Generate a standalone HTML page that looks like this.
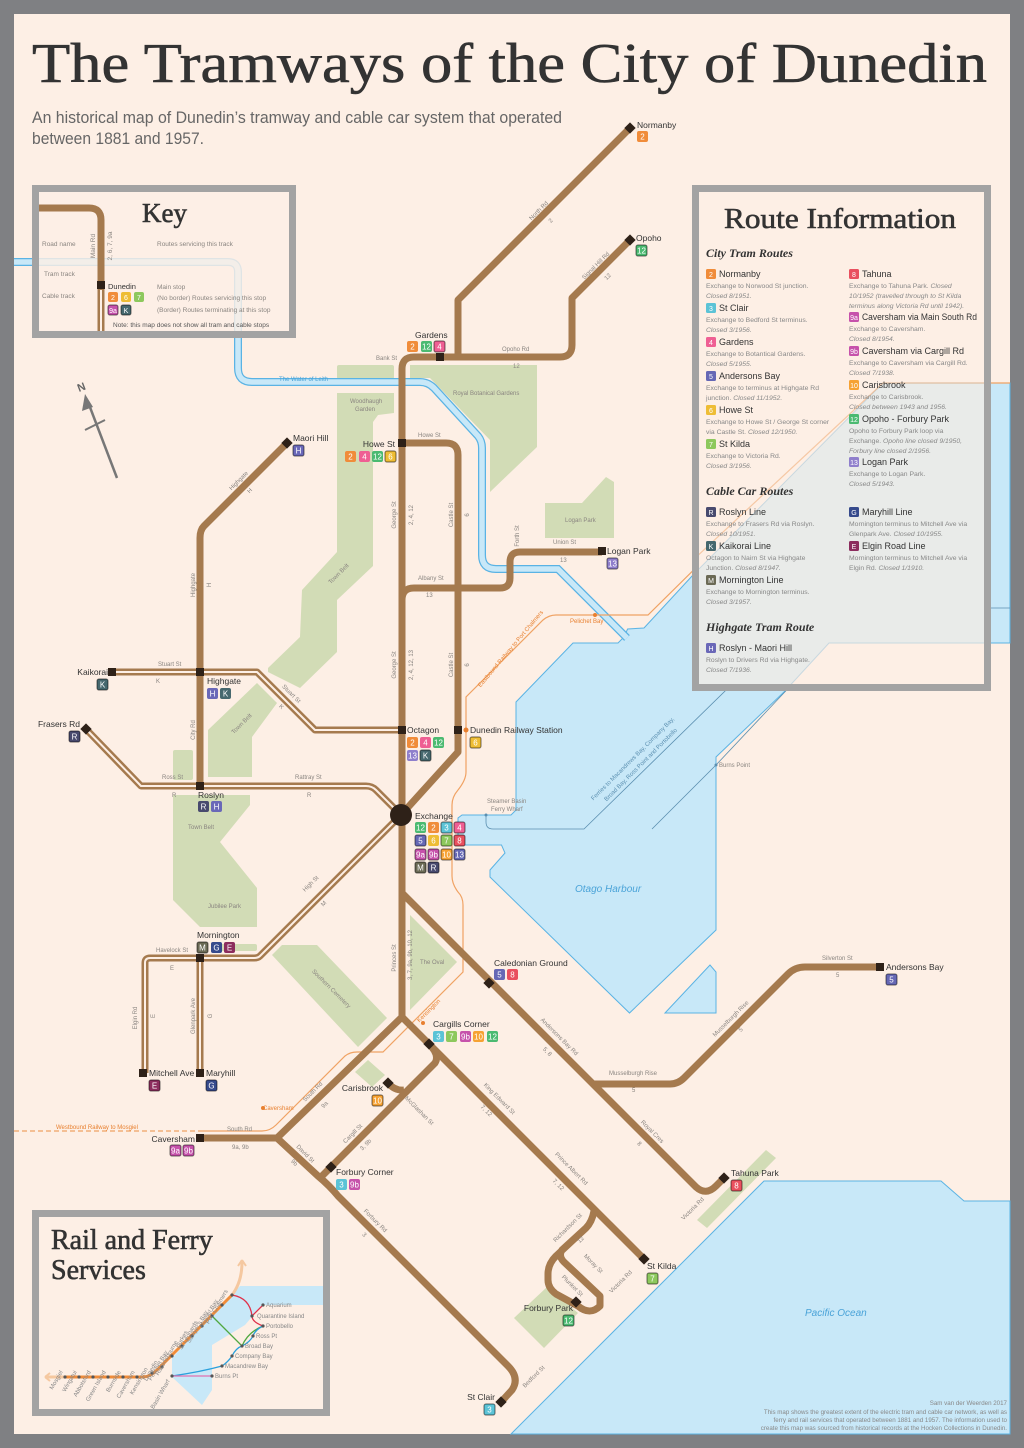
<!DOCTYPE html>
<html><head><meta charset="utf-8">
<style>
html,body{margin:0;padding:0;background:#7f8083;}
svg{display:block;}
text{font-family:"Liberation Sans Narrow","Liberation Sans",sans-serif;}
.rd{font-size:6px;fill:#8a8580;}
.lb{font-size:8.5px;fill:#333;}
.bt{font-size:8px;fill:#fff;text-anchor:middle;}
.sf{font-family:"Liberation Serif",serif;fill:#333;stroke:#333;stroke-width:0.6;}
.tr{fill:none;stroke:#a57a4e;stroke-width:7;stroke-linejoin:round;stroke-linecap:butt;}
.cb{fill:none;stroke:#fdefe5;stroke-width:2;stroke-linejoin:round;}
.st{fill:#2e2118;}
.pk{fill:#d2dcb6;}
.wt{fill:#c8e8f8;stroke:#5ab3e4;stroke-width:1;}
.c2{fill:#f08c3a}.c3{fill:#5cc3d6}.c4{fill:#ef5f93}.c5{fill:#6668b5}.c6{fill:#eebd35}.c7{fill:#8dc85d}.c8{fill:#e9505f}.c9{fill:#c652ab}.c10{fill:#f6a233}.c12{fill:#4bba71}.c13{fill:#8f7fcc}.cM{fill:#6b6a55}.cR{fill:#484a6e}.cK{fill:#46686e}.cH{fill:#6a68b8}.cG{fill:#364a8c}.cE{fill:#8c2d5e}
.bo{stroke:rgba(0,0,0,.45);stroke-width:1.2}
.rn{font-size:9px;fill:#333;}
.rdsc{font-size:6.8px;fill:#888;}
.it{font-style:italic;}
.hd{font-family:"Liberation Serif",serif;font-style:italic;font-weight:bold;font-size:12px;fill:#333;}
.or{fill:none;stroke:#f0a263;stroke-width:1.2;}
.fl{font-size:6px;fill:#888;}
</style></head>
<body>
<svg width="1024" height="1448" viewBox="0 0 1024 1448" xmlns="http://www.w3.org/2000/svg">
<defs>
<clipPath id="rbox"><rect x="699" y="192" width="285" height="492"/></clipPath>
<polygon id="harb" points="644,628 693,575 883,383 1010,383 1010,643 829,643 784,692 716,757 716,930 629.5,1013 490,877 490,870 505,853 501.5,845 458,845 458,818 462,815 511,815 516,810 516,702 573,643 618,643 624,637 627.6,629"/>
</defs>
<rect x="0" y="0" width="1024" height="1448" fill="#7f8083"/>
<rect x="14" y="14" width="996" height="1420" fill="#fdefe5"/>

<!-- parks -->
<rect class="pk" x="337" y="365" width="57" height="14" rx="2"/>
<polygon class="pk" points="337,393 394,393 394,413 378,415 373,422 373,566 337,600 337,652 300,688 268,672 268,668 300,637 302,590 337,552"/>
<polygon class="pk" points="257,683 277,703 252,737 252,777 208,777 208,730"/>
<rect class="pk" x="173" y="750" width="20" height="30" rx="2"/>
<polygon class="pk" points="410,365 537,365 537,447 490,492 490,440 430,378 410,378"/>
<polygon class="pk" points="545,503 582,503 606,477 614,482 614,538 545,538"/>
<polygon class="pk" points="173,795 250,795 250,805 220,842 257,888 257,927 200,927 173,900"/>
<rect class="pk" x="220" y="944" width="37" height="7" rx="2"/>
<polygon class="pk" points="272,955 282,945 317,945 387,1018 358,1047"/>
<polygon class="pk" points="410,915 457,962 410,1010"/>
<polygon class="pk" points="355,1072 368,1060 385,1075 372,1087"/>
<polygon class="pk" points="766,1150 776,1158 707,1228 697,1220"/>
<polygon class="pk" points="547,1287 578,1313 544,1348 514,1318"/>

<!-- water -->
<use href="#harb" class="wt"/>
<polygon class="wt" points="665,1013 710,965 716,972 716,1013"/>
<polygon class="wt" points="511,1434 764,1181 941,1181 964,1201 1010,1201 1010,1434"/>
<path d="M14,262 H228 Q238,262 238,272 V368 Q238,382 252,382 H420 Q428,382 434,388 L478,436 Q482,441 482,448 V555 Q482,569 496,569 H558 L627,638" fill="none" stroke="#5ab3e4" stroke-width="8"/>
<path d="M14,262 H228 Q238,262 238,272 V368 Q238,382 252,382 H420 Q428,382 434,388 L478,436 Q482,441 482,448 V555 Q482,569 496,569 H558 L627,638" fill="none" stroke="#c8e8f8" stroke-width="5.5"/>
<path d="M486,815 V822 Q486,829 493,829 H584 L810,608 H1010 M652,829 L716,765 L831,643" fill="none" stroke="#5b8fb0" stroke-width="0.8"/>
<circle cx="486" cy="815" r="1.5" fill="#5b8fb0"/><circle cx="716" cy="765" r="1.5" fill="#5b8fb0"/>

<!-- railway -->
<path d="M14,1131 H198" class="or" stroke-dasharray="5,3"/>
<path d="M198,1131 H262 Q270,1131 276,1125 L345,1056 Q350,1052 357,1052 H383 L463,972 V905 Q463,897 458,892 Q452,884 452,876 V805 Q452,797 458,790 Q466,780 466,772 V697 L543,620 Q549,615 556,615 H648 L883,383 H1010" class="or"/>
<circle cx="595" cy="615" r="2" fill="#e88030"/><circle cx="423" cy="1023" r="2" fill="#e88030"/><circle cx="263" cy="1108" r="2" fill="#e88030"/>

<!-- tram tracks -->
<path class="tr" d="M630,128 L458,300 V357"/>
<path class="tr" d="M630,240 L572,298 V345 Q572,357 560,357 H414 Q402,357 402,369 V1017"/>
<path class="tr" d="M402,443 H446 Q458,443 458,455 V752 L401,815"/>
<path class="tr" d="M402,600 Q402,588 414,588 H500 Q510,588 510,578 V562 Q510,552 520,552 H602"/>
<path class="tr" d="M287,443 L204,526 Q200,530 200,538 V786"/>
<path class="tr" d="M402,893 L696,1187 Q706,1196 716,1186 L724,1178"/>
<path class="tr" d="M592,1084 H670 Q678,1084 684,1078 L788,974 Q795,967 805,967 H880"/>
<path class="tr" d="M402,1017 L277,1138 M200,1138 H277 L318,1176 Q330,1186 338,1196 L508,1366 Q520,1378 512,1390 L501,1402"/>
<path class="tr" d="M320,1178 L435,1063 Q440,1055 429,1044 M388,1083 Q395,1091 404,1090"/>
<path class="tr" d="M402,1017 L644,1259"/>
<path class="tr" d="M594,1211 Q592,1222 586,1228 L556,1256 Q548,1264 548,1274 V1280 Q548,1288 556,1294 L578,1306 Q590,1316 600,1306 V1296 L564,1262 Q558,1256 562,1250 L586,1228"/>
<!-- cable tracks -->
<path class="tr" d="M112,672 H257 L315,730 H402"/><path class="cb" d="M112,672 H257 L315,730 H402"/>
<path class="tr" d="M86,729 L141,786 H366 Q372,786 376,790 L401,815"/><path class="cb" d="M86,729 L141,786 H366 Q372,786 376,790 L401,815"/>
<path class="tr" d="M401,815 L260,956 Q258,958 254,958 H150 Q145,958 145,963 V1073"/><path class="cb" d="M401,815 L260,956 Q258,958 254,958 H150 Q145,958 145,963 V1073"/>
<path class="tr" d="M200,958 V1073"/><path class="cb" d="M200,958 V1073"/>

<!-- stops -->
<g class="st">
<rect x="626" y="124" width="8" height="8" transform="rotate(45 630 128)"/>
<rect x="626" y="236" width="8" height="8" transform="rotate(45 630 240)"/>
<rect x="436" y="353" width="8" height="8"/>
<rect x="398" y="439" width="8" height="8"/>
<rect x="283" y="439" width="8" height="8" transform="rotate(45 287 443)"/>
<rect x="196" y="668" width="8" height="8"/>
<rect x="108" y="668" width="8" height="8"/>
<rect x="82" y="725" width="8" height="8" transform="rotate(45 86 729)"/>
<rect x="398" y="726" width="8" height="8"/>
<rect x="454" y="726" width="8" height="8"/>
<rect x="196" y="782" width="8" height="8"/>
<rect x="598" y="547" width="8" height="8"/>
<rect x="196" y="954" width="8" height="8"/>
<rect x="139" y="1069" width="8" height="8"/>
<rect x="196" y="1069" width="8" height="8"/>
<rect x="485" y="979" width="8" height="8" transform="rotate(45 489 983)"/>
<rect x="425" y="1040" width="8" height="8" transform="rotate(45 429 1044)"/>
<rect x="384" y="1079" width="8" height="8" transform="rotate(45 388 1083)"/>
<rect x="196" y="1134" width="8" height="8"/>
<rect x="327" y="1163" width="8" height="8" transform="rotate(45 331 1167)"/>
<rect x="720" y="1174" width="8" height="8" transform="rotate(45 724 1178)"/>
<rect x="640" y="1255" width="8" height="8" transform="rotate(45 644 1259)"/>
<rect x="572" y="1298" width="8" height="8" transform="rotate(45 576 1302)"/>
<rect x="497" y="1398" width="8" height="8" transform="rotate(45 501 1402)"/>
<rect x="876" y="963" width="8" height="8"/>
<circle cx="401" cy="815" r="11"/>
</g>
<circle cx="466" cy="730" r="2.5" fill="#e88030"/>

<!-- stop labels and badges -->
<text class="lb" x="637" y="128">Normanby</text>
<rect class="c2" x="637" y="131" width="11" height="11" rx="2"/><text class="bt" x="642.5" y="139.5">2</text>
<text class="lb" x="636" y="241">Opoho</text>
<rect class="c12 bo" x="636" y="245" width="11" height="11" rx="2"/><text class="bt" x="641.5" y="253.5">12</text>
<text class="lb" x="415" y="338">Gardens</text>
<rect class="c2" x="407" y="341" width="11" height="11" rx="2"/><text class="bt" x="412.5" y="349.5">2</text>
<rect class="c12" x="421" y="341" width="11" height="11" rx="2"/><text class="bt" x="426.5" y="349.5">12</text>
<rect class="c4 bo" x="434" y="341" width="11" height="11" rx="2"/><text class="bt" x="439.5" y="349.5">4</text>
<text class="lb" x="395" y="447" text-anchor="end">Howe St</text>
<rect class="c2" x="345" y="451" width="11" height="11" rx="2"/><text class="bt" x="350.5" y="459.5">2</text>
<rect class="c4" x="359" y="451" width="11" height="11" rx="2"/><text class="bt" x="364.5" y="459.5">4</text>
<rect class="c12" x="372" y="451" width="11" height="11" rx="2"/><text class="bt" x="377.5" y="459.5">12</text>
<rect class="c6 bo" x="385" y="451" width="11" height="11" rx="2"/><text class="bt" x="390.5" y="459.5">6</text>
<text class="lb" x="293" y="441">Maori Hill</text>
<rect class="cH bo" x="293" y="445" width="11" height="11" rx="2"/><text class="bt" x="298.5" y="453.5">H</text>
<text class="lb" x="207" y="684">Highgate</text>
<rect class="cH" x="207" y="688" width="11" height="11" rx="2"/><text class="bt" x="212.5" y="696.5">H</text>
<rect class="cK" x="220" y="688" width="11" height="11" rx="2"/><text class="bt" x="225.5" y="696.5">K</text>
<text class="lb" x="108" y="675" text-anchor="end">Kaikorai</text>
<rect class="cK bo" x="97" y="679" width="11" height="11" rx="2"/><text class="bt" x="102.5" y="687.5">K</text>
<text class="lb" x="80" y="727" text-anchor="end">Frasers Rd</text>
<rect class="cR bo" x="69" y="731" width="11" height="11" rx="2"/><text class="bt" x="74.5" y="739.5">R</text>
<text class="lb" x="407" y="733">Octagon</text>
<rect class="c2" x="407" y="737" width="11" height="11" rx="2"/><text class="bt" x="412.5" y="745.5">2</text>
<rect class="c4" x="420" y="737" width="11" height="11" rx="2"/><text class="bt" x="425.5" y="745.5">4</text>
<rect class="c12" x="433" y="737" width="11" height="11" rx="2"/><text class="bt" x="438.5" y="745.5">12</text>
<rect class="c13" x="407" y="750" width="11" height="11" rx="2"/><text class="bt" x="412.5" y="758.5">13</text>
<rect class="cK bo" x="420" y="750" width="11" height="11" rx="2"/><text class="bt" x="425.5" y="758.5">K</text>
<text class="lb" x="470" y="733">Dunedin Railway Station</text>
<rect class="c6 bo" x="470" y="737" width="11" height="11" rx="2"/><text class="bt" x="475.5" y="745.5">6</text>
<text class="lb" x="198" y="798">Roslyn</text>
<rect class="cR" x="198" y="801" width="11" height="11" rx="2"/><text class="bt" x="203.5" y="809.5">R</text>
<rect class="cH" x="211" y="801" width="11" height="11" rx="2"/><text class="bt" x="216.5" y="809.5">H</text>
<text class="lb" x="415" y="819">Exchange</text>
<rect class="c12" x="415" y="822" width="11" height="11" rx="2"/><text class="bt" x="420.5" y="830.5">12</text>
<rect class="c2" x="428" y="822" width="11" height="11" rx="2"/><text class="bt" x="433.5" y="830.5">2</text>
<rect class="c3 bo" x="441" y="822" width="11" height="11" rx="2"/><text class="bt" x="446.5" y="830.5">3</text>
<rect class="c4 bo" x="454" y="822" width="11" height="11" rx="2"/><text class="bt" x="459.5" y="830.5">4</text>
<rect class="c5 bo" x="415" y="835" width="11" height="11" rx="2"/><text class="bt" x="420.5" y="843.5">5</text>
<rect class="c6" x="428" y="835" width="11" height="11" rx="2"/><text class="bt" x="433.5" y="843.5">6</text>
<rect class="c7 bo" x="441" y="835" width="11" height="11" rx="2"/><text class="bt" x="446.5" y="843.5">7</text>
<rect class="c8 bo" x="454" y="835" width="11" height="11" rx="2"/><text class="bt" x="459.5" y="843.5">8</text>
<rect class="c9 bo" x="415" y="849" width="11" height="11" rx="2"/><text class="bt" x="420.5" y="857.5">9a</text>
<rect class="c9 bo" x="428" y="849" width="11" height="11" rx="2"/><text class="bt" x="433.5" y="857.5">9b</text>
<rect class="c10 bo" x="441" y="849" width="11" height="11" rx="2"/><text class="bt" x="446.5" y="857.5">10</text>
<rect class="c5 bo" x="454" y="849" width="11" height="11" rx="2"/><text class="bt" x="459.5" y="857.5">13</text>
<rect class="cM bo" x="415" y="862" width="11" height="11" rx="2"/><text class="bt" x="420.5" y="870.5">M</text>
<rect class="cR bo" x="428" y="862" width="11" height="11" rx="2"/><text class="bt" x="433.5" y="870.5">R</text>
<text class="lb" x="607" y="554">Logan Park</text>
<rect class="c13 bo" x="607" y="558" width="11" height="11" rx="2"/><text class="bt" x="612.5" y="566.5">13</text>
<text class="lb" x="197" y="938">Mornington</text>
<rect class="cM bo" x="197" y="942" width="11" height="11" rx="2"/><text class="bt" x="202.5" y="950.5">M</text>
<rect class="cG" x="211" y="942" width="11" height="11" rx="2"/><text class="bt" x="216.5" y="950.5">G</text>
<rect class="cE" x="224" y="942" width="11" height="11" rx="2"/><text class="bt" x="229.5" y="950.5">E</text>
<text class="lb" x="149" y="1076">Mitchell Ave</text>
<rect class="cE bo" x="149" y="1080" width="11" height="11" rx="2"/><text class="bt" x="154.5" y="1088.5">E</text>
<text class="lb" x="206" y="1076">Maryhill</text>
<rect class="cG bo" x="206" y="1080" width="11" height="11" rx="2"/><text class="bt" x="211.5" y="1088.5">G</text>
<text class="lb" x="494" y="966">Caledonian Ground</text>
<rect class="c5" x="494" y="969" width="11" height="11" rx="2"/><text class="bt" x="499.5" y="977.5">5</text>
<rect class="c8" x="507" y="969" width="11" height="11" rx="2"/><text class="bt" x="512.5" y="977.5">8</text>
<text class="lb" x="433" y="1027">Cargills Corner</text>
<rect class="c3" x="433" y="1031" width="11" height="11" rx="2"/><text class="bt" x="438.5" y="1039.5">3</text>
<rect class="c7" x="446" y="1031" width="11" height="11" rx="2"/><text class="bt" x="451.5" y="1039.5">7</text>
<rect class="c9" x="460" y="1031" width="11" height="11" rx="2"/><text class="bt" x="465.5" y="1039.5">9b</text>
<rect class="c10" x="473" y="1031" width="11" height="11" rx="2"/><text class="bt" x="478.5" y="1039.5">10</text>
<rect class="c12" x="487" y="1031" width="11" height="11" rx="2"/><text class="bt" x="492.5" y="1039.5">12</text>
<text class="lb" x="383" y="1091" text-anchor="end">Carisbrook</text>
<rect class="c10 bo" x="372" y="1095" width="11" height="11" rx="2"/><text class="bt" x="377.5" y="1103.5">10</text>
<text class="lb" x="195" y="1142" text-anchor="end">Caversham</text>
<rect class="c9 bo" x="170" y="1145" width="11" height="11" rx="2"/><text class="bt" x="175.5" y="1153.5">9a</text>
<rect class="c9 bo" x="183" y="1145" width="11" height="11" rx="2"/><text class="bt" x="188.5" y="1153.5">9b</text>
<text class="lb" x="336" y="1175">Forbury Corner</text>
<rect class="c3" x="336" y="1179" width="11" height="11" rx="2"/><text class="bt" x="341.5" y="1187.5">3</text>
<rect class="c9" x="349" y="1179" width="11" height="11" rx="2"/><text class="bt" x="354.5" y="1187.5">9b</text>
<text class="lb" x="731" y="1176">Tahuna Park</text>
<rect class="c8 bo" x="731" y="1180" width="11" height="11" rx="2"/><text class="bt" x="736.5" y="1188.5">8</text>
<text class="lb" x="647" y="1269">St Kilda</text>
<rect class="c7 bo" x="647" y="1273" width="11" height="11" rx="2"/><text class="bt" x="652.5" y="1281.5">7</text>
<text class="lb" x="573" y="1311" text-anchor="end">Forbury Park</text>
<rect class="c12 bo" x="563" y="1315" width="11" height="11" rx="2"/><text class="bt" x="568.5" y="1323.5">12</text>
<text class="lb" x="495" y="1400" text-anchor="end">St Clair</text>
<rect class="c3 bo" x="484" y="1404" width="11" height="11" rx="2"/><text class="bt" x="489.5" y="1412.5">3</text>
<text class="lb" x="886" y="970">Andersons Bay</text>
<rect class="c5 bo" x="886" y="974" width="11" height="11" rx="2"/><text class="bt" x="891.5" y="982.5">5</text>

<!-- road names -->
<g class="rd">
<text x="376" y="360">Bank St</text><text x="502" y="351">Opoho Rd</text><text x="513" y="368">12</text>
<text x="453" y="395">Royal Botanical Gardens</text><text x="350" y="403">Woodhaugh</text><text x="355" y="411">Garden</text>
<text x="418" y="437">Howe St</text><text x="418" y="580">Albany St</text><text x="426" y="597">13</text>
<text x="553" y="544">Union St</text><text x="560" y="562">13</text><text x="565" y="522">Logan Park</text>
<text x="158" y="666">Stuart St</text><text x="156" y="683">K</text>
<text x="162" y="779">Ross St</text><text x="172" y="797">R</text><text x="295" y="779">Rattray St</text><text x="307" y="797">R</text>
<text x="188" y="829">Town Belt</text><text x="208" y="908">Jubilee Park</text>
<text x="156" y="952">Havelock St</text><text x="170" y="970">E</text>
<text x="420" y="964">The Oval</text>
<text x="227" y="1131">South Rd</text><text x="232" y="1149">9a, 9b</text>
<text x="609" y="1075">Musselburgh Rise</text><text x="632" y="1092">5</text>
<text x="822" y="960">Silverton St</text><text x="836" y="977">5</text>
<text x="487" y="803">Steamer Basin</text><text x="491" y="811">Ferry Wharf</text>
<text x="719" y="767">Burns Point</text>
<text x="279" y="381" style="fill:#4aa3d8">The Water of Leith</text>
<text x="570" y="623" style="fill:#e88030">Pelichet Bay</text>
<text x="263" y="1110" style="fill:#e88030">Caversham</text>
<text x="56" y="1129" style="fill:#e88030">Westbound Railway to Mosgiel</text>
<text transform="translate(540,212) rotate(-45)" text-anchor="middle">North Rd</text>
<text transform="translate(552,222) rotate(-45)" text-anchor="middle">2</text>
<text transform="translate(597,267) rotate(-45)" text-anchor="middle">Signal Hill Rd</text>
<text transform="translate(609,278) rotate(-45)" text-anchor="middle">12</text>
<text transform="translate(396,515) rotate(-90)" text-anchor="middle">George St</text>
<text transform="translate(413,515) rotate(-90)" text-anchor="middle">2, 4, 12</text>
<text transform="translate(453,515) rotate(-90)" text-anchor="middle">Castle St</text>
<text transform="translate(469,515) rotate(-90)" text-anchor="middle">6</text>
<text transform="translate(519,536) rotate(-90)" text-anchor="middle">Forth St</text>
<text transform="translate(396,665) rotate(-90)" text-anchor="middle">George St</text>
<text transform="translate(413,665) rotate(-90)" text-anchor="middle">2, 4, 12, 13</text>
<text transform="translate(453,665) rotate(-90)" text-anchor="middle">Castle St</text>
<text transform="translate(469,665) rotate(-90)" text-anchor="middle">6</text>
<text transform="translate(195,585) rotate(-90)" text-anchor="middle">Highgate</text>
<text transform="translate(211,585) rotate(-90)" text-anchor="middle">H</text>
<text transform="translate(195,730) rotate(-90)" text-anchor="middle">City Rd</text>
<text transform="translate(240,482) rotate(-45)" text-anchor="middle">Highgate</text>
<text transform="translate(251,492) rotate(-45)" text-anchor="middle">H</text>
<text transform="translate(340,575) rotate(-45)" text-anchor="middle">Town Belt</text>
<text transform="translate(243,725) rotate(-45)" text-anchor="middle">Town Belt</text>
<text transform="translate(290,695) rotate(45)" text-anchor="middle">Stuart St</text>
<text transform="translate(280,708) rotate(45)" text-anchor="middle">K</text>
<text transform="translate(312,885) rotate(-45)" text-anchor="middle">High St</text>
<text transform="translate(325,905) rotate(-45)" text-anchor="middle">M</text>
<text transform="translate(137,1018) rotate(-90)" text-anchor="middle">Elgin Rd</text>
<text transform="translate(155,1016) rotate(-90)" text-anchor="middle">E</text>
<text transform="translate(195,1016) rotate(-90)" text-anchor="middle">Glenpark Ave</text>
<text transform="translate(212,1016) rotate(-90)" text-anchor="middle">G</text>
<text transform="translate(396,958) rotate(-90)" text-anchor="middle">Princes St</text>
<text transform="translate(412,955) rotate(-90)" text-anchor="middle">3, 7, 9a, 9b, 10, 12</text>
<text transform="translate(330,990) rotate(45)" text-anchor="middle">Southern Cemetery</text>
<text transform="translate(314,1093) rotate(-45)" text-anchor="middle">South Rd</text>
<text transform="translate(326,1106) rotate(-45)" text-anchor="middle">9a</text>
<text transform="translate(304,1155) rotate(45)" text-anchor="middle">David St</text>
<text transform="translate(293,1164) rotate(45)" text-anchor="middle">9b</text>
<text transform="translate(354,1135) rotate(-45)" text-anchor="middle">Cargill St</text>
<text transform="translate(367,1146) rotate(-45)" text-anchor="middle">3, 9b</text>
<text transform="translate(418,1112) rotate(45)" text-anchor="middle">McGlashan St</text>
<text transform="translate(498,1100) rotate(45)" text-anchor="middle">King Edward St</text>
<text transform="translate(485,1112) rotate(45)" text-anchor="middle">7, 12</text>
<text transform="translate(558,1038) rotate(45)" text-anchor="middle">Andersons Bay Rd</text>
<text transform="translate(546,1053) rotate(45)" text-anchor="middle">5, 8</text>
<text transform="translate(732,1020) rotate(-45)" text-anchor="middle">Musselburgh Rise</text>
<text transform="translate(742,1031) rotate(-45)" text-anchor="middle">5</text>
<text transform="translate(651,1133) rotate(45)" text-anchor="middle">Royal Cres</text>
<text transform="translate(638,1145) rotate(45)" text-anchor="middle">8</text>
<text transform="translate(570,1170) rotate(45)" text-anchor="middle">Prince Albert Rd</text>
<text transform="translate(557,1186) rotate(45)" text-anchor="middle">7, 12</text>
<text transform="translate(694,1210) rotate(-45)" text-anchor="middle">Victoria Rd</text>
<text transform="translate(569,1229) rotate(-45)" text-anchor="middle">Richardson St</text>
<text transform="translate(582,1241) rotate(-45)" text-anchor="middle">12</text>
<text transform="translate(592,1265) rotate(45)" text-anchor="middle">Moray St</text>
<text transform="translate(571,1287) rotate(45)" text-anchor="middle">Plunket St</text>
<text transform="translate(622,1283) rotate(-45)" text-anchor="middle">Victoria Rd</text>
<text transform="translate(535,1378) rotate(-45)" text-anchor="middle">Bedford St</text>
<text transform="translate(374,1222) rotate(45)" text-anchor="middle">Forbury Rd</text>
<text transform="translate(363,1236) rotate(45)" text-anchor="middle">3</text>
<text transform="translate(430,1012) rotate(-45)" text-anchor="middle" style="fill:#e88030">Kensington</text>
<text transform="translate(512,650) rotate(-50)" text-anchor="middle" style="fill:#e88030">Eastbound Railway to Port Chalmers</text>
<text transform="translate(634,760) rotate(-45)" text-anchor="middle" style="fill:#5b8fb0">Ferries to Macandrews Bay, Company Bay,</text>
<text transform="translate(642,766) rotate(-45)" text-anchor="middle" style="fill:#5b8fb0">Broad Bay, Ross Point and Portobello</text>
</g>
<text x="575" y="892" style="font-size:10px;font-style:italic;fill:#4aa3d8">Otago Harbour</text>
<text x="805" y="1316" style="font-size:10px;font-style:italic;fill:#4aa3d8">Pacific Ocean</text>

<!-- north arrow -->
<line x1="117" y1="478" x2="88" y2="402" stroke="#777" stroke-width="2.5"/>
<polygon points="85,394 82,411 93,407" fill="#777"/>
<line x1="85" y1="430" x2="105" y2="420" stroke="#777" stroke-width="2"/>
<text transform="translate(79,392) rotate(-21)" style="font-size:11px;font-weight:bold;fill:#666">N</text>

<!-- title -->
<text class="sf" x="32" y="82" style="font-size:56px" textLength="955" lengthAdjust="spacingAndGlyphs">The Tramways of the City of Dunedin</text>
<text x="32" y="123" style="font-size:17px;fill:#666" textLength="530" lengthAdjust="spacingAndGlyphs">An historical map of Dunedin’s tramway and cable car system that operated</text>
<text x="32" y="144" style="font-size:17px;fill:#666" textLength="172" lengthAdjust="spacingAndGlyphs">between 1881 and 1957.</text>

<!-- key box -->
<rect x="35.5" y="188.5" width="257" height="146" fill="rgba(253,239,229,0.82)" stroke="#a3a3a3" stroke-width="7"/>
<path d="M39,208 H89 Q101,208 101,220 V331" class="tr"/>
<path d="M101,290 V331" class="cb"/>
<rect x="97" y="281" width="8" height="8" class="st"/>
<text class="sf" x="142" y="222" style="font-size:27px">Key</text>
<g class="rd" style="font-size:6.5px">
<text x="42" y="246">Road name</text><text x="44" y="276">Tram track</text><text x="42" y="298">Cable track</text>
<text x="157" y="246">Routes servicing this track</text>
<text x="157" y="289">Main stop</text>
<text x="157" y="300">(No border) Routes servicing this stop</text>
<text x="157" y="312">(Border) Routes terminating at this stop</text>
<text x="113" y="327" style="fill:#555">Note: this map does not show all tram and cable stops</text>
<text transform="translate(95,246) rotate(-90)" text-anchor="middle">Main Rd</text>
<text transform="translate(112,246) rotate(-90)" text-anchor="middle">2, 6, 7, 9a</text>
</g>
<text class="lb" x="108" y="289" style="font-size:7.5px">Dunedin</text>
<rect class="c2" x="108" y="292" width="10" height="10" rx="2"/><text class="bt" x="113" y="300" style="font-size:7px">2</text>
<rect class="c6" x="121" y="292" width="10" height="10" rx="2"/><text class="bt" x="126" y="300" style="font-size:7px">6</text>
<rect class="c7" x="134" y="292" width="10" height="10" rx="2"/><text class="bt" x="139" y="300" style="font-size:7px">7</text>
<rect class="c9 bo" x="108" y="305" width="10" height="10" rx="2"/><text class="bt" x="113" y="313" style="font-size:7px">9a</text>
<rect class="cK bo" x="121" y="305" width="10" height="10" rx="2"/><text class="bt" x="126" y="313" style="font-size:7px">K</text>

<!-- route info box -->
<rect x="695.5" y="188.5" width="292" height="499" fill="#fdefe5" stroke="#a3a3a3" stroke-width="7"/>
<g clip-path="url(#rbox)">
<use href="#harb" fill="#e9ebe9" stroke="#c8d8e0" stroke-width="1"/>
<path d="M693,560 L883,383 H1010" class="or" style="opacity:.5"/>
</g>
<text class="sf" x="724" y="228" style="font-size:29px" textLength="232" lengthAdjust="spacingAndGlyphs">Route Information</text>
<text class="hd" x="706" y="257">City Tram Routes</text>
<text class="hd" x="706" y="495">Cable Car Routes</text>
<text class="hd" x="706" y="631">Highgate Tram Route</text>

<g>
<rect class="c2" x="706" y="269" width="10" height="10" rx="1.5"/><text class="bt" x="711" y="277" style="font-size:7px">2</text><text class="rn" x="719" y="277">Normanby</text>
<text class="rdsc" x="706" y="288">Exchange to Norwood St junction.</text><text class="rdsc it" x="706" y="298">Closed 8/1951.</text>
<rect class="c3" x="706" y="303" width="10" height="10" rx="1.5"/><text class="bt" x="711" y="311" style="font-size:7px">3</text><text class="rn" x="719" y="311">St Clair</text>
<text class="rdsc" x="706" y="322">Exchange to Bedford St terminus.</text><text class="rdsc it" x="706" y="332">Closed 3/1956.</text>
<rect class="c4" x="706" y="337" width="10" height="10" rx="1.5"/><text class="bt" x="711" y="345" style="font-size:7px">4</text><text class="rn" x="719" y="345">Gardens</text>
<text class="rdsc" x="706" y="356">Exchange to Botantical Gardens.</text><text class="rdsc it" x="706" y="366">Closed 5/1955.</text>
<rect class="c5" x="706" y="371" width="10" height="10" rx="1.5"/><text class="bt" x="711" y="379" style="font-size:7px">5</text><text class="rn" x="719" y="379">Andersons Bay</text>
<text class="rdsc" x="706" y="390">Exchange to terminus at Highgate Rd</text><text class="rdsc" x="706" y="400">junction. <tspan class="it">Closed 11/1952.</tspan></text>
<rect class="c6" x="706" y="405" width="10" height="10" rx="1.5"/><text class="bt" x="711" y="413" style="font-size:7px">6</text><text class="rn" x="719" y="413">Howe St</text>
<text class="rdsc" x="706" y="424">Exchange to Howe St / George St corner</text><text class="rdsc" x="706" y="434">via Castle St. <tspan class="it">Closed 12/1950.</tspan></text>
<rect class="c7" x="706" y="439" width="10" height="10" rx="1.5"/><text class="bt" x="711" y="447" style="font-size:7px">7</text><text class="rn" x="719" y="447">St Kilda</text>
<text class="rdsc" x="706" y="458">Exchange to Victoria Rd.</text><text class="rdsc it" x="706" y="468">Closed 3/1956.</text>

<rect class="c8" x="849" y="269" width="10" height="10" rx="1.5"/><text class="bt" x="854" y="277" style="font-size:7px">8</text><text class="rn" x="862" y="277">Tahuna</text>
<text class="rdsc" x="849" y="288">Exchange to Tahuna Park. <tspan class="it">Closed</tspan></text><text class="rdsc it" x="849" y="298">10/1952 (travelled through to St Kilda</text><text class="rdsc it" x="849" y="308">terminus along Victoria Rd until 1942).</text>
<rect class="c9" x="849" y="312" width="10" height="10" rx="1.5"/><text class="bt" x="854" y="320" style="font-size:7px">9a</text><text class="rn" x="862" y="320" textLength="115" lengthAdjust="spacingAndGlyphs">Caversham via Main South Rd</text>
<text class="rdsc" x="849" y="331">Exchange to Caversham.</text><text class="rdsc it" x="849" y="341">Closed 8/1954.</text>
<rect class="c9" x="849" y="346" width="10" height="10" rx="1.5"/><text class="bt" x="854" y="354" style="font-size:7px">9b</text><text class="rn" x="862" y="354">Caversham via Cargill Rd</text>
<text class="rdsc" x="849" y="365">Exchange to Caversham via Cargill Rd.</text><text class="rdsc it" x="849" y="375">Closed 7/1938.</text>
<rect class="c10" x="849" y="380" width="10" height="10" rx="1.5"/><text class="bt" x="854" y="388" style="font-size:7px">10</text><text class="rn" x="862" y="388">Carisbrook</text>
<text class="rdsc" x="849" y="399">Exchange to Carisbrook.</text><text class="rdsc it" x="849" y="409">Closed between 1943 and 1956.</text>
<rect class="c12" x="849" y="414" width="10" height="10" rx="1.5"/><text class="bt" x="854" y="422" style="font-size:7px">12</text><text class="rn" x="862" y="422">Opoho - Forbury Park</text>
<text class="rdsc" x="849" y="433">Opoho to Forbury Park loop via</text><text class="rdsc" x="849" y="443">Exchange. <tspan class="it">Opoho line closed 9/1950,</tspan></text><text class="rdsc it" x="849" y="453">Forbury line closed 2/1956.</text>
<rect class="c13" x="849" y="457" width="10" height="10" rx="1.5"/><text class="bt" x="854" y="465" style="font-size:7px">13</text><text class="rn" x="862" y="465">Logan Park</text>
<text class="rdsc" x="849" y="476">Exchange to Logan Park.</text><text class="rdsc it" x="849" y="486">Closed 5/1943.</text>

<rect class="cR" x="706" y="507" width="10" height="10" rx="1.5"/><text class="bt" x="711" y="515" style="font-size:7px">R</text><text class="rn" x="719" y="515">Roslyn Line</text>
<text class="rdsc" x="706" y="526">Exchange to Frasers Rd via Roslyn.</text><text class="rdsc it" x="706" y="536">Closed 10/1951.</text>
<rect class="cK" x="706" y="541" width="10" height="10" rx="1.5"/><text class="bt" x="711" y="549" style="font-size:7px">K</text><text class="rn" x="719" y="549">Kaikorai Line</text>
<text class="rdsc" x="706" y="560">Octagon to Nairn St via Highgate</text><text class="rdsc" x="706" y="570">Junction. <tspan class="it">Closed 8/1947.</tspan></text>
<rect class="cM" x="706" y="575" width="10" height="10" rx="1.5"/><text class="bt" x="711" y="583" style="font-size:7px">M</text><text class="rn" x="719" y="583">Mornington Line</text>
<text class="rdsc" x="706" y="594">Exchange to Mornington terminus.</text><text class="rdsc it" x="706" y="604">Closed 3/1957.</text>
<rect class="cG" x="849" y="507" width="10" height="10" rx="1.5"/><text class="bt" x="854" y="515" style="font-size:7px">G</text><text class="rn" x="862" y="515">Maryhill Line</text>
<text class="rdsc" x="849" y="526">Mornington terminus to Mitchell Ave via</text><text class="rdsc" x="849" y="536">Glenpark Ave. <tspan class="it">Closed 10/1955.</tspan></text>
<rect class="cE" x="849" y="541" width="10" height="10" rx="1.5"/><text class="bt" x="854" y="549" style="font-size:7px">E</text><text class="rn" x="862" y="549">Elgin Road Line</text>
<text class="rdsc" x="849" y="560">Mornington terminus to Mitchell Ave via</text><text class="rdsc" x="849" y="570">Elgin Rd. <tspan class="it">Closed 1/1910.</tspan></text>

<rect class="cH" x="706" y="643" width="10" height="10" rx="1.5"/><text class="bt" x="711" y="651" style="font-size:7px">H</text><text class="rn" x="719" y="651">Roslyn - Maori Hill</text>
<text class="rdsc" x="706" y="662">Roslyn to Drivers Rd via Highgate.</text><text class="rdsc it" x="706" y="672">Closed 7/1936.</text>
</g>

<!-- rail and ferry box -->
<rect x="35.5" y="1213.5" width="291" height="199" fill="#fdefe5" stroke="#a3a3a3" stroke-width="7"/>
<text class="sf" x="51" y="1249" style="font-size:28px">Rail and Ferry</text>
<text class="sf" x="51" y="1279" style="font-size:28px">Services</text>
<polygon points="240,1286 323,1286 323,1305 262,1305 245,1325 212,1345 212,1390 202,1405 172,1377 172,1358" fill="#c8e8f8"/>
<path d="M45,1377 H65" stroke="#f5c8a0" stroke-width="3" fill="none"/>
<path d="M45,1377 l5,-4 M45,1377 l5,4" stroke="#f5c8a0" stroke-width="2" fill="none"/>
<path d="M232,1295 Q242,1282 242,1262" stroke="#f5c8a0" stroke-width="3" fill="none"/>
<path d="M242,1260 l-4,6 M242,1260 l4,6" stroke="#f5c8a0" stroke-width="2" fill="none"/>
<path d="M65,1377 H143 Q150,1377 157,1370 L232,1295" stroke="#f08c3a" stroke-width="3" fill="none"/>
<path d="M232,1295 Q250,1298 252,1316 M252,1316 L263,1305 M252,1316 Q252,1322 263,1326" stroke="#e0304a" stroke-width="1.3" fill="none"/>
<path d="M212,1316 L242,1346 Q248,1332 263,1326" stroke="#50a840" stroke-width="1.3" fill="none"/>
<path d="M172,1376 Q200,1372 222,1366 Q228,1362 232,1356 Q236,1348 242,1346 Q250,1342 253,1336 Q255,1330 263,1326" stroke="#2aa0dc" stroke-width="1.3" fill="none"/>
<path d="M172,1376 H212" stroke="#e070b0" stroke-width="1.2" fill="none"/>
<g fill="#555">
<circle cx="65" cy="1377" r="1.6"/><circle cx="79" cy="1377" r="1.6"/><circle cx="93" cy="1377" r="1.6"/><circle cx="108" cy="1377" r="1.6"/><circle cx="123" cy="1377" r="1.6"/><circle cx="137" cy="1377" r="1.6"/>
<circle cx="152" cy="1373" r="1.6"/><circle cx="162" cy="1367" r="1.6"/><circle cx="172" cy="1356" r="1.6"/><circle cx="182" cy="1346" r="1.6"/><circle cx="192" cy="1336" r="1.6"/><circle cx="202" cy="1326" r="1.6"/><circle cx="212" cy="1316" r="1.6"/><circle cx="222" cy="1305" r="1.6"/><circle cx="232" cy="1295" r="1.6"/>
<circle cx="172" cy="1376" r="1.6"/><circle cx="212" cy="1376" r="1.6"/><circle cx="222" cy="1366" r="1.6"/><circle cx="232" cy="1356" r="1.6"/><circle cx="242" cy="1346" r="1.6"/><circle cx="253" cy="1336" r="1.6"/><circle cx="263" cy="1326" r="1.6"/><circle cx="252" cy="1316" r="1.6"/><circle cx="263" cy="1305" r="1.6"/>
</g>
<g class="fl" text-anchor="end">
<text transform="translate(63,1372) rotate(-60)">Mosgiel</text>
<text transform="translate(77,1372) rotate(-60)">Wingatui</text>
<text transform="translate(91,1372) rotate(-60)">Abbotsford</text>
<text transform="translate(106,1372) rotate(-60)">Green Island</text>
<text transform="translate(121,1372) rotate(-60)">Burnside</text>
<text transform="translate(135,1372) rotate(-60)">Caversham</text>
<text transform="translate(148,1369) rotate(-60)">Kensington</text>
<text transform="translate(158,1362) rotate(-60)">Dunedin</text>
<text transform="translate(168,1352) rotate(-60)">Pelichet Bay</text>
<text transform="translate(178,1342) rotate(-60)">Ravensbourne</text>
<text transform="translate(188,1332) rotate(-60)">Burkes</text>
<text transform="translate(198,1322) rotate(-60)">St Leonards</text>
<text transform="translate(208,1312) rotate(-60)">Sawyer's Bay</text>
<text transform="translate(218,1301) rotate(-60)">Mussel Bay</text>
<text transform="translate(228,1291) rotate(-60)">Port Chalmers</text>
<text transform="translate(170,1381) rotate(-60)">Basin Wharf</text>
</g>
<g class="fl">
<text x="266" y="1307">Aquarium</text><text x="257" y="1318">Quarantine Island</text><text x="266" y="1328">Portobello</text>
<text x="256" y="1338">Ross Pt</text><text x="245" y="1348">Broad Bay</text><text x="235" y="1358">Company Bay</text>
<text x="225" y="1368">Macandrew Bay</text><text x="215" y="1378">Burns Pt</text>
</g>

<!-- footer -->
<g class="fl" text-anchor="end" style="font-size:6.2px">
<text x="1007" y="1405">Sam van der Weerden 2017</text>
<text x="1007" y="1414">This map shows the greatest extent of the electric tram and cable car network, as well as</text>
<text x="1007" y="1422">ferry and rail services that operated between 1881 and 1957. The information used to</text>
<text x="1007" y="1430">create this map was sourced from historical records at the Hocken Collections in Dunedin.</text>
</g>
</svg>
</body></html>
